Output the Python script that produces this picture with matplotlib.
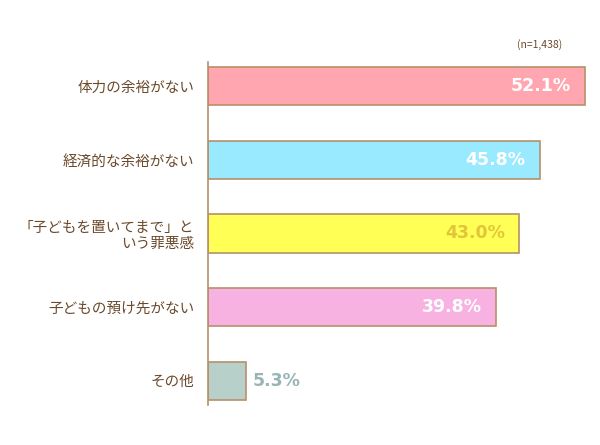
import matplotlib
matplotlib.use("Agg")
import matplotlib.pyplot as plt

plt.rcParams['font.family'] = ['Noto Sans CJK JP', 'DejaVu Sans']

categories = ["体力の余裕がない", "経済的な余裕がない", "「子どもを置いてまで」と\nいう罪悪感", "子どもの預け先がない", "その他"]
values = [52.1, 45.8, 43.0, 39.8, 5.3]
labels = ["52.1%", "45.8%", "43.0%", "39.8%", "5.3%"]
colors = ["#ffa6b0", "#99e9ff", "#ffff55", "#f7b2e2", "#b8d0ca"]
label_colors = ["white", "white", "#e2c63a", "white", "#98b4b4"]

fig = plt.figure(figsize=(6, 4.45), dpi=100)
ax = fig.add_axes([208/600, 40/445, 390/600, 343/445])
y = list(range(len(categories)))
ax.barh(y, values, height=0.52, color=colors, edgecolor="#b8906a", linewidth=1.2)
ax.set_xlim(0, 390/7.24)
ax.set_ylim(4.33, -0.33)
for i, (v, l, c) in enumerate(zip(values, labels, label_colors)):
    if v > 10:
        ax.text(v - 2.0, i, l, ha="right", va="center", color=c, fontsize=12.5, fontweight="bold", family="DejaVu Sans")
    else:
        ax.text(v + 0.8, i, l, ha="left", va="center", color=c, fontsize=12.5, fontweight="bold", family="DejaVu Sans")
ax.set_yticks(y)
ax.set_yticklabels(categories, fontsize=10.5, color="#6b4a2b", linespacing=1.2)
ax.tick_params(axis="y", length=0, pad=10)
ax.set_xticks([])
for s in ["top", "right", "bottom"]:
    ax.spines[s].set_visible(False)
ax.spines["left"].set_color("#b8906a")
ax.spines["left"].set_linewidth(1.2)
fig.text(540/600, 1 - 45/445, "(n=1,438)", ha="center", va="center", fontsize=7.5, color="#6b4a2b")
fig.savefig("out.png", dpi=100)
